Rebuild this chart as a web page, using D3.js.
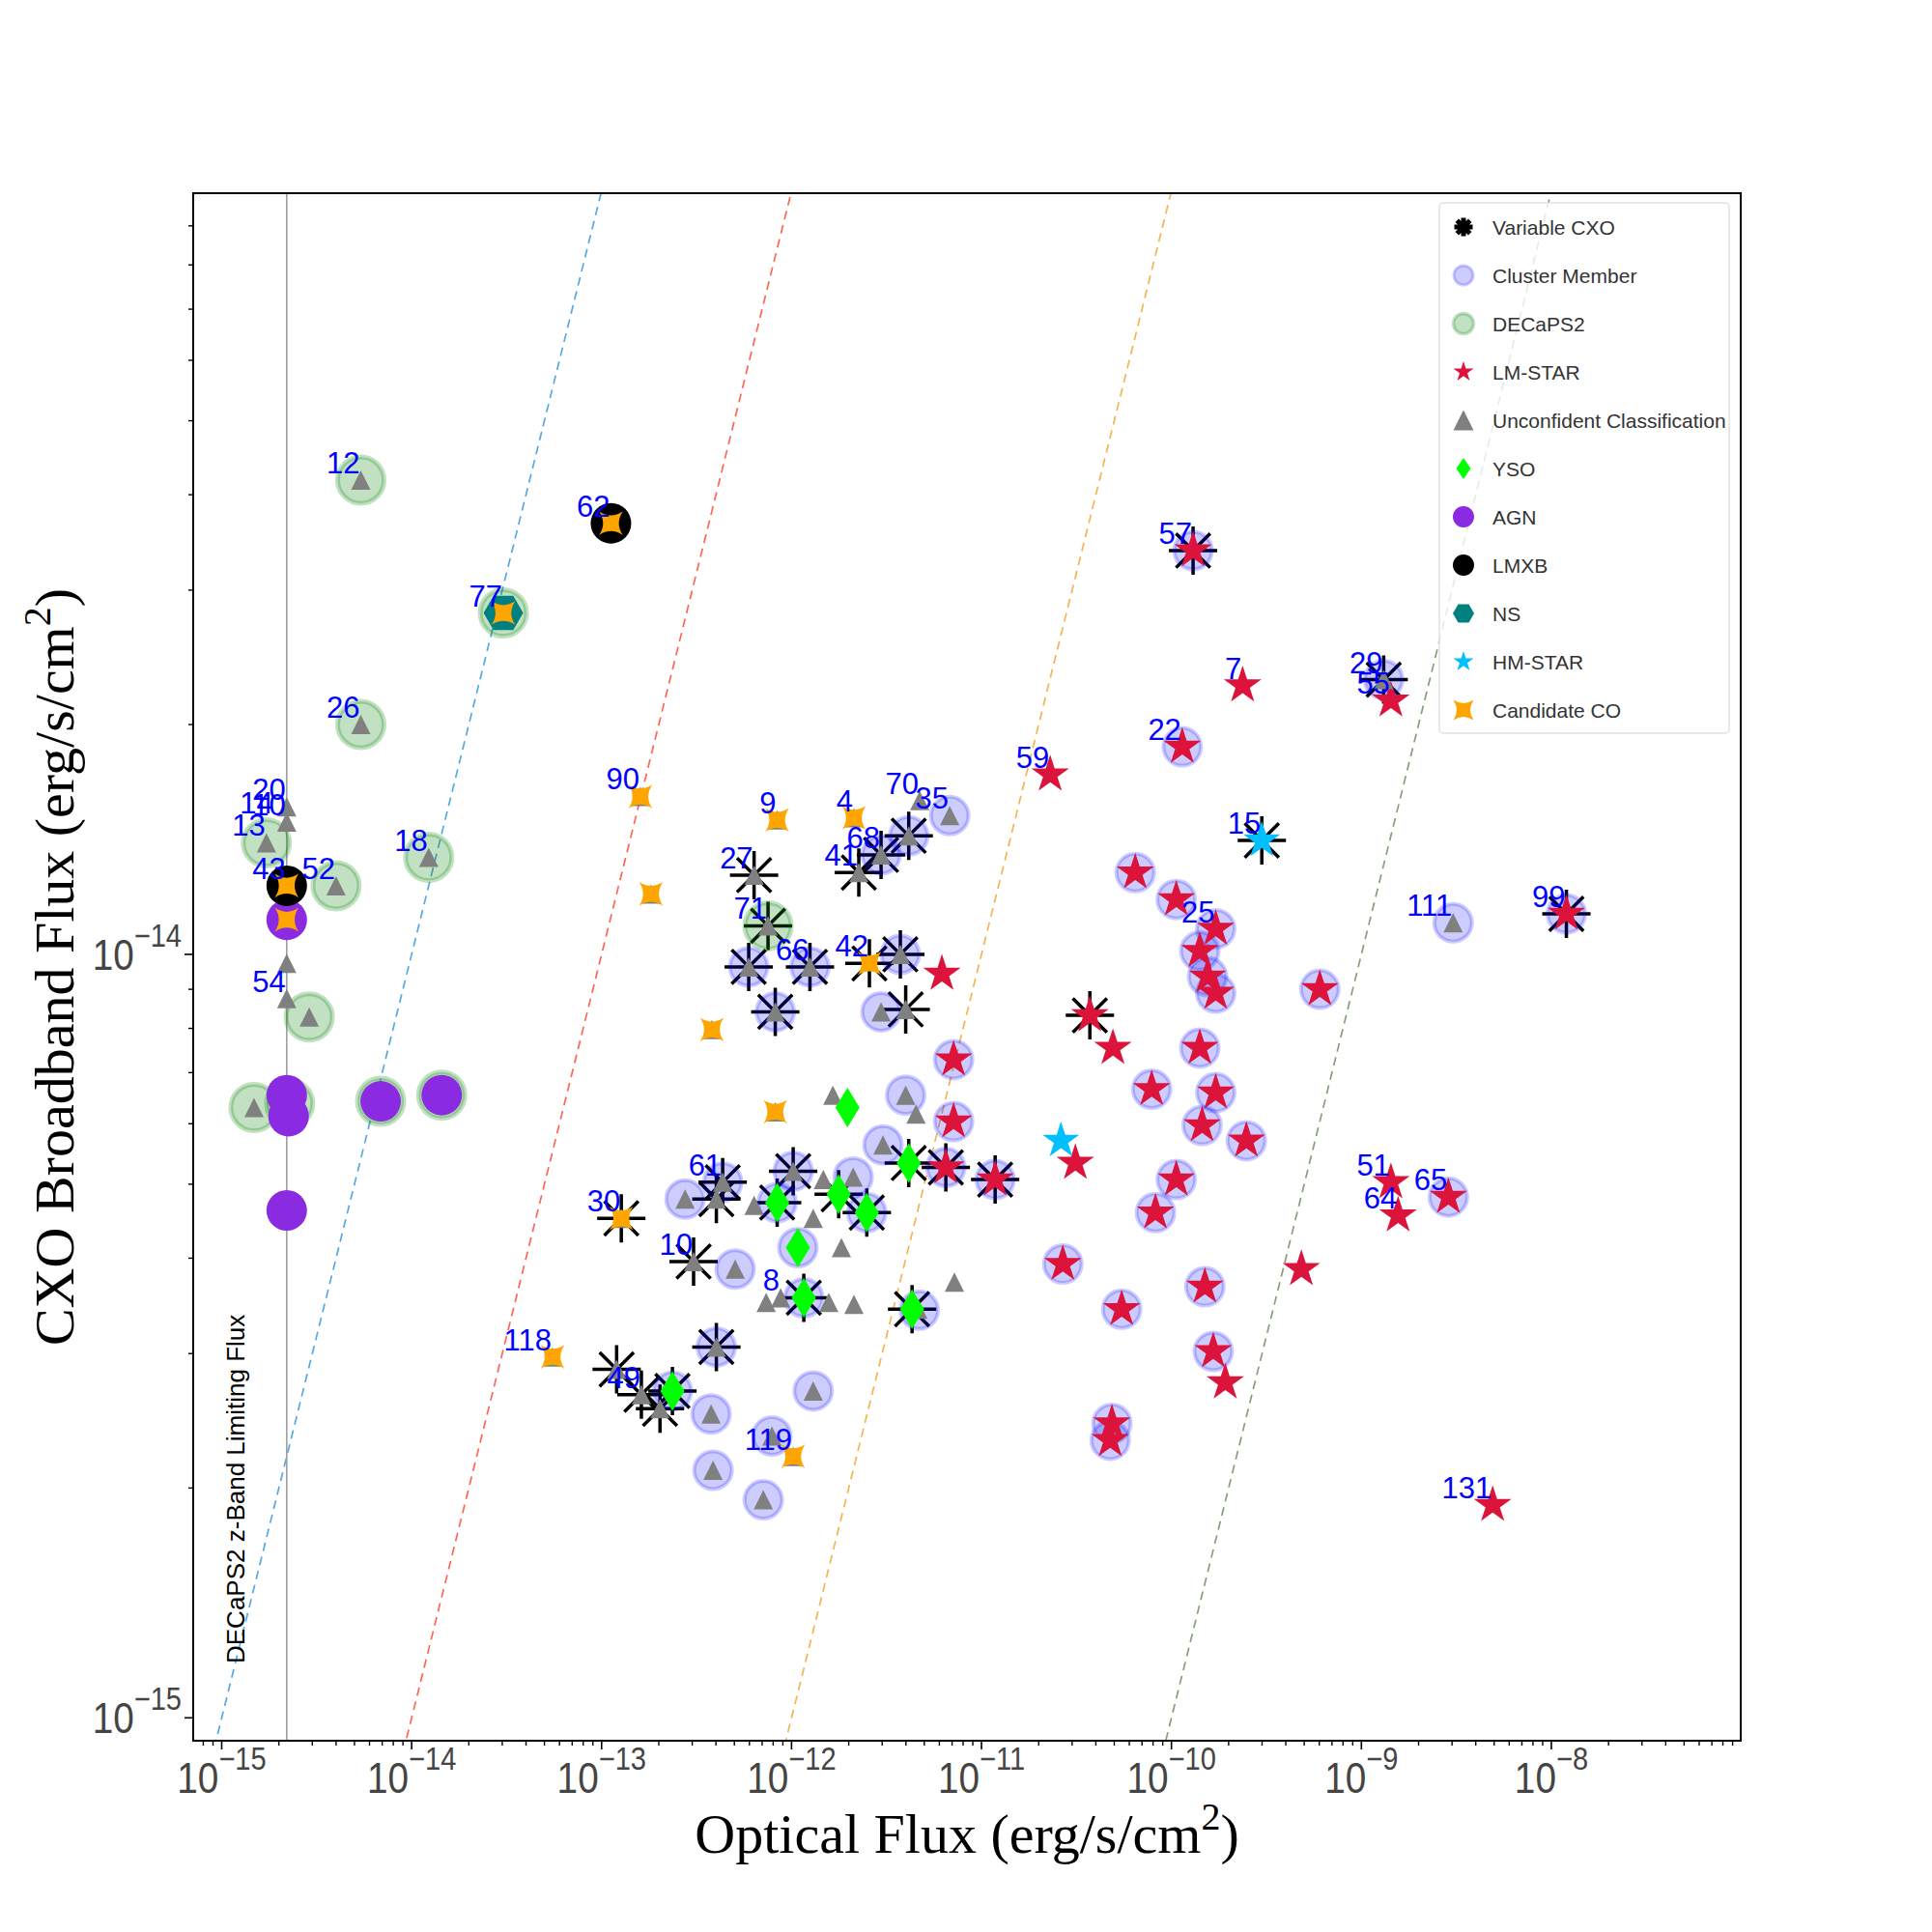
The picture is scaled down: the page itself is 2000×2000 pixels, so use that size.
<!DOCTYPE html>
<html>
<head>
<meta charset="utf-8">
<script src="https://d3js.org/d3.v7.min.js"></script>
<style>
  body { margin: 0; background: #fff; }
</style>
</head>
<body>
<script>
// ---- data: [optical flux, CXO broadband flux] in erg/s/cm^2 ----
var variableCXO = [
  [1.27e-13,4.51e-15],[1.2e-13,2.86e-15],[4.14e-12,1.43e-14],[2.96e-12,1.35e-14],[2.26e-12,1.28e-14],
  [6.35e-13,1.27e-14],[7.52e-13,1.09e-14],[5.95e-13,9.63e-15],[1.25e-12,9.63e-15],[2.57e-12,9.73e-15],
  [3.74e-12,1.0e-14],[3.99e-12,8.47e-15],[8.21e-13,8.41e-15],[3.72e-11,8.32e-15],[4.14e-12,5.33e-15],
  [6.49e-12,5.26e-15],[1.18e-11,5.07e-15],[4.34e-13,5.03e-15],[4.02e-13,4.78e-15],[1.02e-12,5.20e-15],
  [8.4e-13,4.73e-15],[1.77e-12,4.85e-15],[2.49e-12,4.59e-15],[3.05e-13,3.96e-15],[1.16e-12,3.55e-15],
  [4.31e-12,3.43e-15],[4.02e-13,3.06e-15],[1.62e-13,2.65e-15],[2.03e-13,2.54e-15],[2.36e-13,2.68e-15],
  [1.30e-10,3.38e-14],[1.31e-9,2.29e-14],[2.99e-10,1.41e-14],[1.20e-8,1.13e-14]
];
var clusterMember = [
  [6.80e-12,1.52e-14],[4.14e-12,1.43e-14],[2.96e-12,1.35e-14],[6.45e-11,1.28e-14],[5.95e-13,9.63e-15],
  [1.25e-12,9.63e-15],[3.74e-12,1.0e-14],[2.96e-12,8.41e-15],[8.21e-13,8.41e-15],[7.13e-12,7.28e-15],
  [7.87e-11,6.66e-15],[3.99e-12,6.54e-15],[7.13e-12,6.04e-15],[3.03e-12,5.63e-15],[6.49e-12,5.26e-15],
  [1.18e-11,5.07e-15],[4.34e-13,5.03e-15],[2.75e-13,4.78e-15],[1.02e-12,5.20e-15],[8.4e-13,4.73e-15],
  [2.11e-12,5.11e-15],[2.49e-12,4.59e-15],[1.08e-12,4.13e-15],[5.05e-13,3.87e-15],[1.16e-12,3.55e-15],
  [4.7e-12,3.42e-15],[4.02e-13,3.06e-15],[2.36e-13,2.68e-15],[3.77e-13,2.50e-15],[7.88e-13,2.34e-15],
  [1.30e-12,2.68e-15],[3.86e-13,2.11e-15],[7.1e-13,1.93e-15],[1.30e-10,3.38e-14],[1.14e-10,1.87e-14],
  [1.31e-9,2.29e-14],[1.06e-10,1.18e-14],[1.71e-10,1.08e-14],[1.41e-10,1.01e-14],[1.55e-10,9.35e-15],
  [1.71e-10,8.90e-15],[6.04e-10,9.0e-15],[3.04e-9,1.10e-14],[1.20e-8,1.13e-14],[1.41e-10,7.54e-15],
  [1.71e-10,6.59e-15],[1.45e-10,5.97e-15],[2.48e-10,5.70e-15],[1.06e-10,5.07e-15],[8.24e-11,4.59e-15],
  [2.87e-9,4.81e-15],[1.50e-10,3.67e-15],[5.47e-11,3.43e-15],[1.66e-10,3.02e-15],[4.86e-11,2.43e-15],
  [4.76e-11,2.31e-15],[2.68e-11,3.93e-15]
];
var decaps2 = [
  [5.4e-15,4.18e-14],[3.04e-14,2.80e-14],[5.4e-15,2.0e-14],[1.72e-15,1.40e-14],[4.0e-15,1.23e-14],
  [1.23e-14,1.34e-14],[2.89e-15,8.28e-15],[1.48e-15,6.30e-15],[2.28e-15,6.38e-15],[6.87e-15,6.42e-15],
  [1.44e-14,6.54e-15],[7.52e-13,1.09e-14]
];
var lmStar = [
  [2.30e-11,1.72e-14],[6.45e-11,1.28e-14],[6.19e-12,9.43e-15],[3.72e-11,8.32e-15],[4.92e-11,7.54e-15],
  [7.13e-12,7.28e-15],[7.87e-11,6.66e-15],[7.13e-12,6.04e-15],[3.12e-11,5.33e-15],[6.49e-12,5.26e-15],
  [1.18e-11,5.07e-15],[1.30e-10,3.38e-14],[2.37e-10,2.25e-14],[1.14e-10,1.87e-14],[1.43e-9,2.15e-14],
  [1.06e-10,1.18e-14],[1.71e-10,1.08e-14],[1.41e-10,1.01e-14],[1.55e-10,9.35e-15],[1.71e-10,8.90e-15],
  [6.04e-10,9.0e-15],[1.20e-8,1.13e-14],[1.41e-10,7.54e-15],[1.71e-10,6.59e-15],[1.45e-10,5.97e-15],
  [2.48e-10,5.70e-15],[1.06e-10,5.07e-15],[8.24e-11,4.59e-15],[1.43e-9,5.03e-15],[1.56e-9,4.55e-15],
  [2.87e-9,4.81e-15],[4.83e-10,3.87e-15],[1.50e-10,3.67e-15],[5.47e-11,3.43e-15],[1.66e-10,3.02e-15],
  [1.92e-10,2.75e-15],[4.86e-11,2.43e-15],[4.76e-11,2.31e-15],[4.91e-9,1.90e-15],[2.68e-11,3.93e-15]
];
var unconfident = [
  [5.4e-15,4.18e-14],[5.4e-15,2.0e-14],[2.2e-15,1.56e-14],[2.2e-15,1.49e-14],[1.72e-15,1.40e-14],
  [4.0e-15,1.23e-14],[1.23e-14,1.34e-14],[1.6e-13,1.61e-14],[1.82e-13,1.20e-14],[2.2e-15,9.73e-15],
  [2.2e-15,8.75e-15],[2.89e-15,8.28e-15],[1.48e-15,6.30e-15],[1.27e-13,4.51e-15],[5.52e-14,2.97e-15],
  [1.2e-13,2.86e-15],[8.4e-13,1.50e-14],[2.13e-12,1.51e-14],[4.73e-12,1.59e-14],[6.80e-12,1.52e-14],
  [4.14e-12,1.43e-14],[2.96e-12,1.35e-14],[2.26e-12,1.28e-14],[6.35e-13,1.27e-14],[7.52e-13,1.09e-14],
  [5.95e-13,9.63e-15],[1.25e-12,9.63e-15],[3.74e-12,1.0e-14],[2.96e-12,8.41e-15],[3.99e-12,8.47e-15],
  [8.21e-13,8.41e-15],[3.81e-13,7.97e-15],[1.65e-12,6.54e-15],[3.99e-12,6.54e-15],[4.52e-12,6.18e-15],
  [8.21e-13,6.22e-15],[3.03e-12,5.63e-15],[4.34e-13,5.03e-15],[2.75e-13,4.78e-15],[4.02e-13,4.78e-15],
  [6.35e-13,4.69e-15],[1.02e-12,5.20e-15],[1.47e-12,5.07e-15],[2.11e-12,5.11e-15],[1.30e-12,4.51e-15],
  [1.83e-12,4.13e-15],[3.05e-13,3.96e-15],[5.05e-13,3.87e-15],[7.35e-13,3.50e-15],[8.76e-13,3.55e-15],
  [1.57e-12,3.50e-15],[2.13e-12,3.48e-15],[4.62e-12,3.43e-15],[7.2e-12,3.72e-15],[4.02e-13,3.06e-15],
  [1.62e-13,2.65e-15],[2.03e-13,2.54e-15],[3.77e-13,2.50e-15],[7.88e-13,2.34e-15],[1.02e-12,2.20e-15],
  [1.30e-12,2.68e-15],[3.86e-13,2.11e-15],[7.1e-13,1.93e-15],[1.31e-9,2.29e-14],[3.04e-9,1.10e-14]
];
var yso = [
  [1.97e-12,6.30e-15],[4.14e-12,5.33e-15],[8.4e-13,4.73e-15],[1.77e-12,4.85e-15],[2.49e-12,4.59e-15],
  [1.08e-12,4.13e-15],[1.16e-12,3.55e-15],[4.31e-12,3.43e-15],[2.36e-13,2.68e-15]
];
var agn = [
  [2.2e-15,1.11e-14],[2.2e-15,6.54e-15],[2.25e-15,6.14e-15],[6.87e-15,6.42e-15],[1.44e-14,6.54e-15],
  [2.2e-15,4.62e-15]
];
var lmxb = [[1.12e-13,3.67e-14],[2.2e-15,1.23e-14]];
var ns = [[3.04e-14,2.80e-14]];
var hmStar = [[2.62e-11,5.70e-15],[2.99e-10,1.41e-14]];
var candidateCO = [
  [1.12e-13,3.67e-14],[3.04e-14,2.80e-14],[2.2e-15,1.23e-14],[1.6e-13,1.61e-14],[1.82e-13,1.20e-14],
  [2.2e-15,1.11e-14],[1.27e-13,4.51e-15],[5.52e-14,2.97e-15],[8.4e-13,1.50e-14],[2.13e-12,1.51e-14],
  [2.57e-12,9.73e-15],[3.81e-13,7.97e-15],[8.21e-13,6.22e-15],[1.02e-12,2.20e-15]
];
// source ids written next to some points: [id, optical, xray]
var srcLabels = [
  ["12",5.4e-15,4.18e-14],["62",1.12e-13,3.67e-14],["77",3.04e-14,2.80e-14],["26",5.4e-15,2.0e-14],
  ["20",2.2e-15,1.56e-14],["14",1.89e-15,1.50e-14],["10",2.2e-15,1.49e-14],["13",1.72e-15,1.40e-14],
  ["43",2.2e-15,1.23e-14],["52",4.0e-15,1.23e-14],["18",1.23e-14,1.34e-14],["90",1.6e-13,1.61e-14],
  ["54",2.2e-15,8.75e-15],["30",1.27e-13,4.51e-15],["118",5.52e-14,2.97e-15],["49",1.62e-13,2.65e-15],
  ["59",2.30e-11,1.72e-14],["9",8.4e-13,1.50e-14],["4",2.13e-12,1.51e-14],["70",4.73e-12,1.59e-14],
  ["35",6.80e-12,1.52e-14],["68",2.96e-12,1.35e-14],["41",2.26e-12,1.28e-14],["27",6.35e-13,1.27e-14],
  ["71",7.52e-13,1.09e-14],["66",1.25e-12,9.63e-15],["42",2.57e-12,9.73e-15],["61",4.34e-13,5.03e-15],
  ["10",3.05e-13,3.96e-15],["8",8.76e-13,3.55e-15],["119",1.02e-12,2.20e-15],["57",1.30e-10,3.38e-14],
  ["7",2.37e-10,2.25e-14],["22",1.14e-10,1.87e-14],["29",1.31e-9,2.29e-14],["55",1.43e-9,2.15e-14],
  ["15",2.99e-10,1.41e-14],["25",1.71e-10,1.08e-14],["111",3.04e-9,1.10e-14],["99",1.20e-8,1.13e-14],
  ["51",1.43e-9,5.03e-15],["64",1.56e-9,4.55e-15],["65",2.87e-9,4.81e-15],["131",4.91e-9,1.90e-15]
];
// constant Fx/Fopt lines and the DECaPS2 z-band limit
var fluxRatios = [1, 0.1, 1e-3, 1e-5];
var ratioColors = ["#55aae2", "#ff6656", "#f3b553", "#86a078"];
var zLimitFlux = 2.2e-15;

// ---- marker shapes ----
function starPath(R) {
  var r = R * 0.381966, p = [];
  for (var i = 0; i < 10; i++) {
    var a = -Math.PI / 2 + i * Math.PI / 5, rr = i % 2 ? r : R;
    p.push([rr * Math.cos(a), rr * Math.sin(a)]);
  }
  return "M" + p.join("L") + "Z";
}
function triPath(s) { return "M0," + (-s) + "L" + s + "," + s + "L" + (-s) + "," + s + "Z"; }
function diamondPath(w, h) { return "M0," + (-h) + "L" + w + ",0L0," + h + "L" + (-w) + ",0Z"; }
function hexPath(R) {
  var p = [];
  for (var i = 0; i < 6; i++) { var a = i * Math.PI / 3; p.push([R * Math.cos(a), R * Math.sin(a)]); }
  return "M" + p.join("L") + "Z";
}
function coPath(a) {
  var b = a * 0.33;
  return "M" + (-a) + "," + (-a) + "Q0," + (-b) + " " + a + "," + (-a) +
         "Q" + b + ",0 " + a + "," + a + "Q0," + b + " " + (-a) + "," + a +
         "Q" + (-b) + ",0 " + (-a) + "," + (-a) + "Z";
}
function asteriskPath(r) {
  var d = r * Math.SQRT1_2;
  return "M" + (-r) + ",0L" + r + ",0M0," + (-r) + "L0," + r +
         "M" + (-d) + "," + (-d) + "L" + d + "," + d + "M" + (-d) + "," + d + "L" + d + "," + (-d);
}

var W = 2000, H = 2000;
var L = 200, R = 1802, T = 200, B = 1802;

var x = d3.scaleLog().domain([Math.pow(10, -15.15), Math.pow(10, -7.003)]).range([L, R]);
var y = d3.scaleLog().domain([Math.pow(10, -15.03), Math.pow(10, -13.003)]).range([B, T]);

var svg = d3.select("body").append("svg")
    .attr("width", W).attr("height", H)
    .style("font-family", "'Liberation Sans', Arial, sans-serif");

svg.append("defs").append("clipPath").attr("id", "plotArea")
  .append("rect").attr("x", L).attr("y", T).attr("width", R - L).attr("height", B - T);

var plot = svg.append("g").attr("clip-path", "url(#plotArea)");

// ratio lines
var xd = x.domain();
fluxRatios.forEach(function(k, i) {
  plot.append("line")
      .attr("x1", x(xd[0])).attr("y1", y(xd[0] * k))
      .attr("x2", x(xd[1])).attr("y2", y(xd[1] * k))
      .attr("stroke", ratioColors[i]).attr("stroke-width", 1.7)
      .attr("stroke-dasharray", "9,6");
});
plot.append("line")
    .attr("x1", x(zLimitFlux)).attr("x2", x(zLimitFlux))
    .attr("y1", T).attr("y2", B)
    .attr("stroke", "#999").attr("stroke-width", 1.5);

function layer(data, path, style) {
  var sel = plot.append("g").selectAll("path").data(data).join("path")
      .attr("transform", function(d) { return "translate(" + x(d[0]) + "," + y(d[1]) + ")"; })
      .attr("d", path);
  style(sel);
}
function disc(r) { return d3.arc()({innerRadius: 0, outerRadius: r, startAngle: 0, endAngle: 2 * Math.PI}); }

layer(variableCXO, asteriskPath(25), function(s) {
  s.attr("fill", "none").attr("stroke", "#000").attr("stroke-width", 3.5);
});
layer(clusterMember, disc(19.5), function(s) {
  s.attr("fill", "blue").attr("fill-opacity", 0.2)
   .attr("stroke", "blue").attr("stroke-opacity", 0.2).attr("stroke-width", 4);
});
layer(decaps2, disc(24), function(s) {
  s.attr("fill", "green").attr("fill-opacity", 0.24)
   .attr("stroke", "green").attr("stroke-opacity", 0.24).attr("stroke-width", 5);
});
layer(lmStar, starPath(20.5), function(s) { s.attr("fill", "crimson"); });
layer(unconfident, triPath(10), function(s) { s.attr("fill", "gray"); });
layer(yso, diamondPath(12.5, 20.5), function(s) { s.attr("fill", "lime"); });
layer(agn, disc(21), function(s) { s.attr("fill", "blueviolet"); });
layer(lmxb, disc(21), function(s) { s.attr("fill", "black"); });
layer(ns, hexPath(20.5), function(s) { s.attr("fill", "teal"); });
layer(hmStar, starPath(20), function(s) { s.attr("fill", "deepskyblue"); });
layer(candidateCO, coPath(12.3), function(s) { s.attr("fill", "orange"); });

// id labels
plot.append("g").selectAll("text").data(srcLabels).join("text")
    .attr("x", function(d) { return x(d[1]) - 1; })
    .attr("y", function(d) { return y(d[2]) - 7; })
    .attr("text-anchor", "end")
    .attr("font-size", 31)
    .attr("fill", "blue")
    .text(function(d) { return d[0]; });

// limiting flux note
svg.append("text")
    .attr("transform", "translate(253,1722) rotate(-90)")
    .attr("font-size", 26)
    .attr("fill", "#000")
    .text("DECaPS2 z-Band Limiting Flux");

// ---- axes ----
function logTicks(scale) {
  var d = scale.domain(), lo = Math.floor(Math.log10(d[0])), hi = Math.ceil(Math.log10(d[1]));
  var major = [], minor = [];
  for (var e = lo; e <= hi; e++) {
    var v = Math.pow(10, e);
    if (v >= d[0] && v <= d[1]) major.push(e);
    for (var m = 2; m <= 9; m++) {
      var mv = m * v;
      if (mv >= d[0] && mv <= d[1]) minor.push(mv);
    }
  }
  return {major: major, minor: minor};
}
var axes = svg.append("g");
var tx = logTicks(x), ty = logTicks(y);

axes.selectAll(".xmin").data(tx.minor).join("line")
    .attr("x1", function(d) { return x(d); }).attr("x2", function(d) { return x(d); })
    .attr("y1", B).attr("y2", B + 5).attr("stroke", "#000").attr("stroke-width", 1.4);
axes.selectAll(".xmaj").data(tx.major).join("line")
    .attr("x1", function(e) { return x(Math.pow(10, e)); }).attr("x2", function(e) { return x(Math.pow(10, e)); })
    .attr("y1", B).attr("y2", B + 9).attr("stroke", "#000").attr("stroke-width", 1.6);
axes.selectAll(".ymin").data(ty.minor).join("line")
    .attr("y1", function(d) { return y(d); }).attr("y2", function(d) { return y(d); })
    .attr("x1", L).attr("x2", L - 5).attr("stroke", "#000").attr("stroke-width", 1.4);
axes.selectAll(".ymaj").data(ty.major).join("line")
    .attr("y1", function(e) { return y(Math.pow(10, e)); }).attr("y2", function(e) { return y(Math.pow(10, e)); })
    .attr("x1", L).attr("x2", L - 9).attr("stroke", "#000").attr("stroke-width", 1.6);

function powLabel(g, e, anchor) {
  var t = g.append("text").attr("text-anchor", anchor).attr("font-size", 44).attr("fill", "#444").text("10");
  t.append("tspan").attr("dy", -24).attr("font-size", 33).text("\u2212" + Math.abs(e));
}
tx.major.forEach(function(e) {
  powLabel(axes.append("g").attr("transform", "translate(" + x(Math.pow(10, e)) + "," + (B + 54) + ") scale(0.88,1)"), e, "middle");
});
ty.major.forEach(function(e) {
  powLabel(axes.append("g").attr("transform", "translate(188," + (y(Math.pow(10, e)) + 16) + ") scale(0.88,1)"), e, "end");
});

axes.append("rect").attr("x", L).attr("y", T).attr("width", R - L).attr("height", B - T)
    .attr("fill", "none").attr("stroke", "#000").attr("stroke-width", 2);

var serif = "'Liberation Serif', 'Times New Roman', serif";
var xl = svg.append("text").attr("x", (L + R) / 2).attr("y", 1918)
    .attr("text-anchor", "middle").attr("font-family", serif).attr("font-size", 58)
    .text("Optical Flux (erg/s/cm");
xl.append("tspan").attr("dy", -24).attr("font-size", 40).text("2");
xl.append("tspan").attr("dy", 24).text(")");

var yl = svg.append("text").attr("transform", "translate(76," + ((T + B) / 2) + ") rotate(-90)")
    .attr("text-anchor", "middle").attr("font-family", serif).attr("font-size", 58)
    .text("CXO Broadband Flux (erg/s/cm");
yl.append("tspan").attr("dy", -24).attr("font-size", 40).text("2");
yl.append("tspan").attr("dy", 24).text(")");

// ---- legend ----
var legendItems = [
  ["Variable CXO", function(g) { g.append("path").attr("d", asteriskPath(9.5)).attr("stroke", "#000").attr("stroke-width", 5).attr("fill", "none"); }],
  ["Cluster Member", function(g) { g.append("circle").attr("r", 10).attr("fill", "blue").attr("fill-opacity", 0.2).attr("stroke", "blue").attr("stroke-opacity", 0.2).attr("stroke-width", 3); }],
  ["DECaPS2", function(g) { g.append("circle").attr("r", 10.5).attr("fill", "green").attr("fill-opacity", 0.24).attr("stroke", "green").attr("stroke-opacity", 0.24).attr("stroke-width", 3.5); }],
  ["LM-STAR", function(g) { g.append("path").attr("d", starPath(11)).attr("fill", "crimson"); }],
  ["Unconfident Classification", function(g) { g.append("path").attr("d", triPath(10.5)).attr("fill", "gray"); }],
  ["YSO", function(g) { g.append("path").attr("d", diamondPath(7.5, 11)).attr("fill", "lime"); }],
  ["AGN", function(g) { g.append("circle").attr("r", 11).attr("fill", "blueviolet"); }],
  ["LMXB", function(g) { g.append("circle").attr("r", 11).attr("fill", "black"); }],
  ["NS", function(g) { g.append("path").attr("d", hexPath(11)).attr("fill", "teal"); }],
  ["HM-STAR", function(g) { g.append("path").attr("d", starPath(11)).attr("fill", "deepskyblue"); }],
  ["Candidate CO", function(g) { g.append("path").attr("d", coPath(10.5)).attr("fill", "orange"); }]
];
var legend = svg.append("g");
legend.append("rect").attr("x", 1490).attr("y", 210).attr("width", 300).attr("height", 549)
    .attr("rx", 4).attr("fill", "#fff").attr("fill-opacity", 0.8)
    .attr("stroke", "#e2e2e2").attr("stroke-width", 1.5);
legendItems.forEach(function(it, i) {
  var row = legend.append("g").attr("transform", "translate(0," + (235 + 50 * i) + ")");
  it[1](row.append("g").attr("transform", "translate(1515,0)"));
  row.append("text").attr("x", 1545).attr("y", 7.5).attr("font-size", 21).attr("fill", "#333").text(it[0]);
});
</script>
</body>
</html>
